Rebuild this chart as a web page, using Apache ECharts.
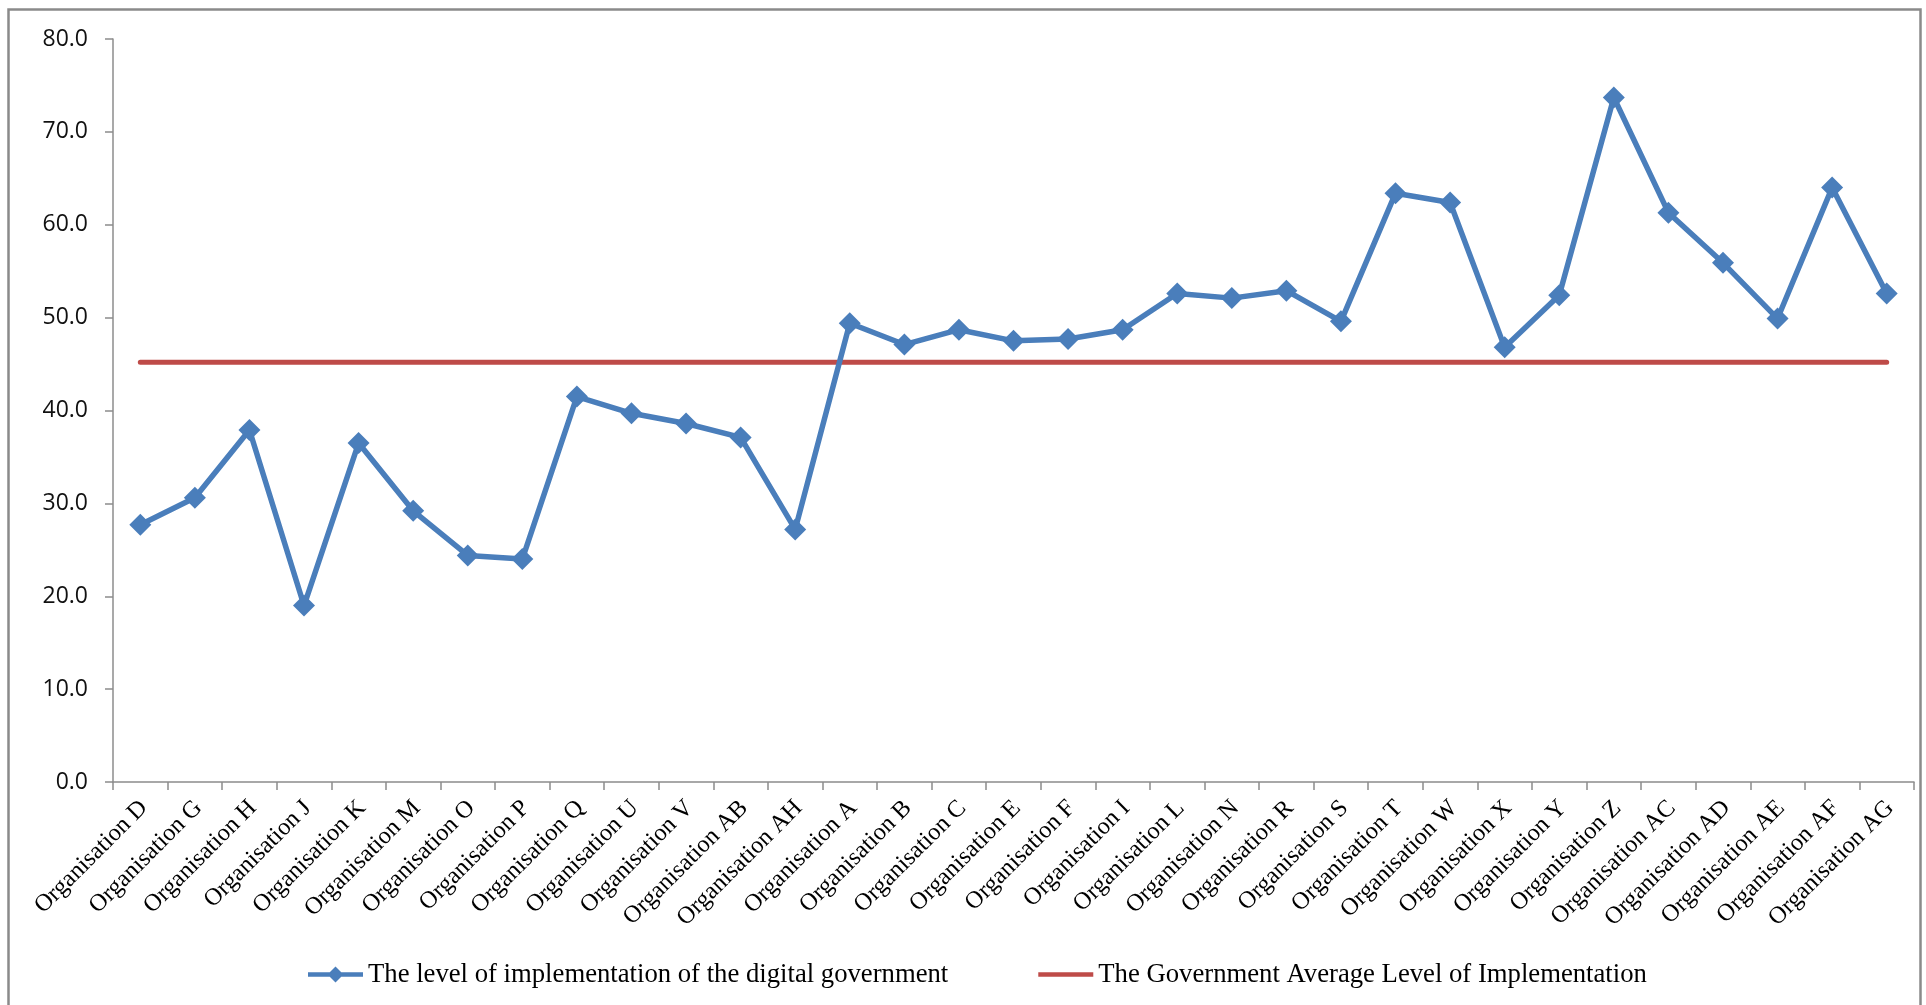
<!DOCTYPE html>
<html>
<head>
<meta charset="utf-8">
<script src="https://cdn.jsdelivr.net/npm/echarts@6/dist/echarts.min.js"></script>
<style>
  html, body { margin: 0; padding: 0; background: #fff; }
  #chart { width: 1926px; height: 1005px; }
</style>
</head>
<body>
<div id="chart"></div>
<script>
// Organisations in display order
const organisations = [
  'Organisation D', 'Organisation G', 'Organisation H', 'Organisation J', 'Organisation K',
  'Organisation M', 'Organisation O', 'Organisation P', 'Organisation Q', 'Organisation U',
  'Organisation V', 'Organisation AB', 'Organisation AH', 'Organisation A', 'Organisation B',
  'Organisation C', 'Organisation E', 'Organisation F', 'Organisation I', 'Organisation L',
  'Organisation N', 'Organisation R', 'Organisation S', 'Organisation T', 'Organisation W',
  'Organisation X', 'Organisation Y', 'Organisation Z', 'Organisation AC', 'Organisation AD',
  'Organisation AE', 'Organisation AF', 'Organisation AG'
];

// Level of implementation of the digital government per organisation
const implementationLevel = [
  27.7, 30.6, 37.9, 19.0, 36.5,
  29.2, 24.4, 24.0, 41.5, 39.7,
  38.6, 37.1, 27.2, 49.4, 47.1,
  48.7, 47.5, 47.7, 48.7, 52.6,
  52.1, 52.9, 49.6, 63.4, 62.4,
  46.8, 52.4, 73.7, 61.3, 55.9,
  49.9, 64.0, 52.6
];

// Government-wide average level of implementation
const averageLevel = [
  45.2, 45.2, 45.2, 45.2, 45.2, 45.2, 45.2, 45.2, 45.2, 45.2, 45.2,
  45.2, 45.2, 45.2, 45.2, 45.2, 45.2, 45.2, 45.2, 45.2, 45.2, 45.2,
  45.2, 45.2, 45.2, 45.2, 45.2, 45.2, 45.2, 45.2, 45.2, 45.2, 45.2
];

// Value axis ticks
const yTicks = { min: 0, max: 80, interval: 10 };

const seriesNames = [
  'The level of implementation of the digital government',
  'The Government Average Level of Implementation'
];

const BLUE = '#4A7EBB';
const RED = '#BE4B48';
const AXIS_GREY = '#8C8C8C';

// Legend keys: a thick line, with a diamond for the marker series
const ICON_LINE_DIAMOND = 'path://M0,5.8 L55,5.8 L55,10.2 L0,10.2 Z M27.5,0 L35.5,8 L27.5,16 L19.5,8 Z';
const ICON_LINE = 'path://M0,0 L55,0 L55,4.6 L0,4.6 Z';

const chart = echarts.init(document.getElementById('chart'), null, { renderer: 'canvas' });

chart.setOption({
  animation: false,
  backgroundColor: '#ffffff',
  graphic: [{
    type: 'rect',
    shape: { x: 8.5, y: 9.5, width: 1912, height: 1010 },
    style: { fill: 'none', stroke: '#8A8A8A', lineWidth: 2.5 },
    silent: true
  }],
  grid: { left: 113, right: 12, top: 39, bottom: 223, containLabel: false },
  legend: {
    data: [
      { name: seriesNames[0], icon: ICON_LINE_DIAMOND, itemStyle: { color: BLUE } },
      { name: seriesNames[1], icon: ICON_LINE, itemStyle: { color: RED } }
    ],
    bottom: 12,
    left: 303,
    itemWidth: 55,
    itemHeight: 16,
    itemGap: 90,
    symbolKeepAspect: true,
    textStyle: { fontFamily: 'Liberation Serif', fontSize: 26.7, color: '#000' }
  },
  xAxis: {
    type: 'category',
    data: organisations,
    boundaryGap: true,
    axisLine: { lineStyle: { color: AXIS_GREY, width: 1.5 } },
    axisTick: { show: true, length: 8, lineStyle: { color: AXIS_GREY, width: 1.5 } },
    axisLabel: {
      interval: 0,
      rotate: 45,
      margin: 9,
      verticalAlign: 'top',
      padding: [0, 7, 0, 0],
      fontFamily: 'Liberation Serif',
      fontSize: 24.3,
      color: '#000'
    },
    splitLine: { show: false }
  },
  yAxis: {
    type: 'value',
    min: yTicks.min,
    max: yTicks.max,
    interval: yTicks.interval,
    axisLine: { show: true, lineStyle: { color: AXIS_GREY, width: 1.5 } },
    axisTick: { show: true, length: 8, lineStyle: { color: AXIS_GREY, width: 1.5 } },
    axisLabel: {
      margin: 25,
      fontFamily: 'Open Sans',
      fontSize: 23,
      color: '#111',
      formatter: v => v.toFixed(1)
    },
    splitLine: { show: false }
  },
  series: [
    {
      name: seriesNames[0],
      type: 'line',
      data: implementationLevel,
      symbol: 'diamond',
      symbolSize: 22,
      lineStyle: { color: BLUE, width: 5.5 },
      itemStyle: { color: BLUE },
      z: 3
    },
    {
      name: seriesNames[1],
      type: 'line',
      data: averageLevel,
      symbol: 'none',
      lineStyle: { color: RED, width: 5, cap: 'round' },
      itemStyle: { color: RED },
      z: 2
    }
  ]
});
</script>
</body>
</html>
